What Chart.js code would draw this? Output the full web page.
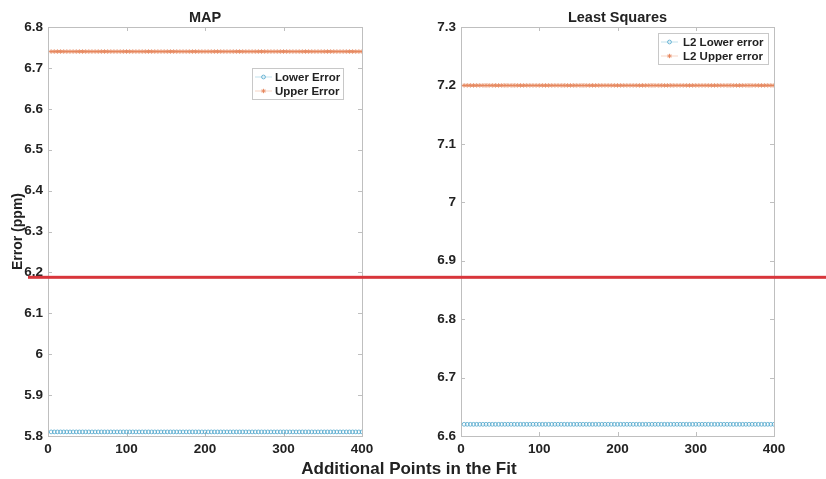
<!DOCTYPE html>
<html>
<head>
<meta charset="utf-8">
<script src="https://cdn.jsdelivr.net/npm/chart.js@4.4.1/dist/chart.umd.min.js"></script>
<style>
    body {
        margin: 0;
        background: #fff;
        width: 826px;
        height: 479px;
        overflow: hidden;
        position: relative;
        font-family: "Liberation Sans", Arial, sans-serif;
    }
    canvas { position: absolute; top: 0; }
    #mapChart { left: 0; }
    #lsqChart { left: 413px; }
    #xlabel {
        position: absolute;
        left: 0;
        width: 818px;
        top: 459px;
        text-align: center;
        font-weight: bold;
        font-size: 17px;
        color: #222;
    }
</style>
</head>
<body>
<canvas id="mapChart" width="413" height="479"></canvas>
<canvas id="lsqChart" width="413" height="479"></canvas>
<div id="xlabel">Additional Points in the Fit</div>

<script>
// additional points used in the fit (x axis)
var xPoints = []
for (var p = 4; p <= 400; p += 4) xPoints.push(p)

// errors in ppm, flat over the whole run
var mapLower = xPoints.map(function () { return 5.81 })
var mapUpper = xPoints.map(function () { return 6.74 })
var lsqLower = xPoints.map(function () { return 6.62 })
var lsqUpper = xPoints.map(function () { return 7.2 })

// reference level marked in red
var mapRefLevel = 6.188
var lsqRefLevel = 6.8716

var xTicks = [0, 100, 200, 300, 400]
var mapYTicks = [5.8, 5.9, 6.0, 6.1, 6.2, 6.3, 6.4, 6.5, 6.6, 6.7, 6.8]
var lsqYTicks = [6.6, 6.7, 6.8, 6.9, 7.0, 7.1, 7.2, 7.3]

var textColor = '#222'
var lowerColor = '#4ea6cb'
var upperColor = '#e5845a'

Chart.defaults.font.family = '"Liberation Sans", Arial, sans-serif'
Chart.defaults.color = textColor

function toPoints(values) {
    return xPoints.map(function (x, i) { return { x: x, y: values[i] } })
}

function fmt(v) {
    return '' + Number((+v).toFixed(1))
}

// axes box with inward ticks on every side
var boxPlugin = {
    id: 'axBox',
    beforeDatasetsDraw: function (chart) {
        var a = chart.chartArea, ctx = chart.ctx
        var xs = chart.scales.x, ys = chart.scales.y
        ctx.save()
        ctx.strokeStyle = '#bfbfbf'
        ctx.lineWidth = 1
        ctx.strokeRect(Math.round(a.left) + 0.5, Math.round(a.top) + 0.5,
            Math.round(a.right - a.left), Math.round(a.bottom - a.top))
        ctx.beginPath()
        xs.ticks.forEach(function (t) {
            var px = Math.round(xs.getPixelForValue(t.value)) + 0.5
            ctx.moveTo(px, a.bottom); ctx.lineTo(px, a.bottom - 4)
            ctx.moveTo(px, a.top); ctx.lineTo(px, a.top + 4)
        })
        ys.ticks.forEach(function (t) {
            var py = Math.round(ys.getPixelForValue(t.value)) + 0.5
            ctx.moveTo(a.left, py); ctx.lineTo(a.left + 4, py)
            ctx.moveTo(a.right, py); ctx.lineTo(a.right - 4, py)
        })
        ctx.stroke()
        ctx.restore()
    }
}

var titlePlugin = {
    id: 'axTitle',
    afterDraw: function (chart, args, opts) {
        var a = chart.chartArea, ctx = chart.ctx
        ctx.save()
        ctx.font = 'bold 14.5px "Liberation Sans", Arial, sans-serif'
        ctx.fillStyle = textColor
        ctx.textAlign = 'center'
        ctx.textBaseline = 'middle'
        ctx.fillText(opts.text, (a.left + a.right) / 2, 18)
        ctx.restore()
    }
}

var boxLegendPlugin = {
    id: 'boxLegend',
    afterDraw: function (chart, args, opts) {
        var ctx = chart.ctx
        ctx.save()
        ctx.fillStyle = '#fff'
        ctx.fillRect(opts.x, opts.y, opts.w, opts.h)
        ctx.strokeStyle = '#c8c8c8'
        ctx.lineWidth = 1
        ctx.strokeRect(opts.x + 0.5, opts.y + 0.5, opts.w, opts.h)
        ctx.font = 'bold 11.5px "Liberation Sans", Arial, sans-serif'
        ctx.textBaseline = 'middle'
        chart.data.datasets.forEach(function (ds, i) {
            var cy = opts.y + 9 + i * 14
            var lx = opts.x + 3
            ctx.globalAlpha = 0.35
            ctx.strokeStyle = ds.borderColor
            ctx.beginPath()
            ctx.moveTo(lx, cy); ctx.lineTo(lx + 17, cy)
            ctx.stroke()
            ctx.globalAlpha = 1
            ctx.fillStyle = 'rgba(0,0,0,0)'
            ctx.lineWidth = ds.pointBorderWidth
            Chart.helpers.drawPoint(ctx, {
                pointStyle: ds.pointStyle, radius: ds.pointRadius,
                rotation: 0, borderWidth: ds.pointBorderWidth
            }, lx + 8.5, cy)
            ctx.lineWidth = 1
            ctx.fillStyle = textColor
            ctx.fillText(ds.label, opts.x + opts.textOffset, cy + 0.5)
        })
        ctx.restore()
    }
}

var refLinePlugin = {
    id: 'refLine',
    afterDraw: function (chart, args, opts) {
        var ctx = chart.ctx
        var y = chart.scales.y.getPixelForValue(opts.value)
        ctx.save()
        ctx.fillStyle = '#d8353b'
        ctx.fillRect(opts.from, y - 1.5, chart.width - opts.from, 3)
        ctx.restore()
    }
}

function makeChart(id, cfg) {
    var ctx = document.getElementById(id)
    return new Chart(ctx, {
        type: 'scatter',
        data: {
            datasets: [{
                label: cfg.labels[0],
                data: toPoints(cfg.lower),
                showLine: false,
                pointStyle: 'circle',
                pointRadius: 1.9,
                pointBorderWidth: 0.8,
                borderColor: lowerColor,
                backgroundColor: 'rgba(0,0,0,0)'
            },
            {
                label: cfg.labels[1],
                data: toPoints(cfg.upper),
                showLine: false,
                pointStyle: 'star',
                pointRadius: 2.2,
                pointBorderWidth: 0.9,
                borderColor: upperColor,
                backgroundColor: upperColor
            }]
        },
        options: {
            responsive: false,
            animation: false,
            events: [],
            layout: { padding: { left: 0, right: cfg.rightPad, top: 27, bottom: 0 } },
            scales: {
                x: {
                    type: 'linear',
                    min: 0,
                    max: 400,
                    afterBuildTicks: function (axis) {
                        axis.ticks = xTicks.map(function (v) { return { value: v } })
                    },
                    afterFit: function (axis) { axis.height = 43 },
                    grid: { display: false, drawTicks: false },
                    border: { display: false },
                    ticks: {
                        padding: 5,
                        maxRotation: 0,
                        font: { size: 13.5, weight: 'bold' },
                        color: textColor
                    }
                },
                y: {
                    min: cfg.yTicks[0],
                    max: cfg.yTicks[cfg.yTicks.length - 1],
                    afterBuildTicks: function (axis) {
                        axis.ticks = cfg.yTicks.map(function (v) { return { value: v } })
                    },
                    afterFit: function (axis) { axis.width = 48 },
                    grid: { display: false, drawTicks: false },
                    border: { display: false },
                    title: {
                        display: !!cfg.yTitle,
                        text: cfg.yTitle || '',
                        font: { size: 14, weight: 'bold' },
                        color: textColor,
                        padding: { top: 10, bottom: 0 }
                    },
                    ticks: {
                        padding: 5,
                        font: { size: 13.5, weight: 'bold' },
                        color: textColor,
                        callback: fmt
                    }
                }
            },
            plugins: {
                legend: { display: false },
                tooltip: { enabled: false },
                axTitle: { text: cfg.title },
                boxLegend: cfg.legend,
                refLine: { value: cfg.refLevel, from: cfg.refFrom }
            }
        },
        plugins: [boxPlugin, titlePlugin, boxLegendPlugin, refLinePlugin]
    })
}

function Graphic() {
    makeChart('mapChart', {
        title: 'MAP',
        labels: ['Lower Error', 'Upper Error'],
        lower: mapLower,
        upper: mapUpper,
        yTicks: mapYTicks,
        yTitle: 'Error (ppm)',
        rightPad: 51,
        refLevel: mapRefLevel,
        refFrom: 28,
        legend: { x: 252, y: 68, w: 91, h: 31, textOffset: 23 }
    })
    makeChart('lsqChart', {
        title: 'Least Squares',
        labels: ['L2 Lower error', 'L2 Upper error'],
        lower: lsqLower,
        upper: lsqUpper,
        yTicks: lsqYTicks,
        yTitle: null,
        rightPad: 52,
        refLevel: lsqRefLevel,
        refFrom: 0,
        legend: { x: 245, y: 33, w: 110, h: 31, textOffset: 25 }
    })
}

window.addEventListener('load', Graphic)
</script>
</body>
</html>
